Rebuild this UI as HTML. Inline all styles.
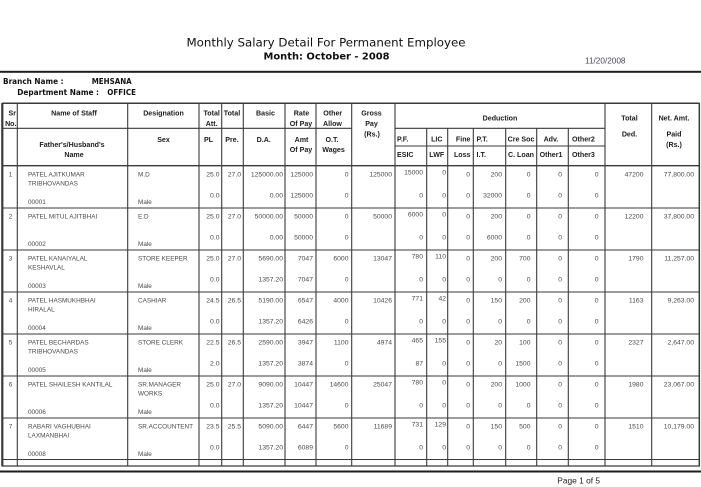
<!DOCTYPE html>
<html>
<head>
<meta charset="utf-8">
<style>
html,body{margin:0;padding:0;background:#fff;}
svg{display:block;}
text{dominant-baseline:central;}
.h{font-family:"Liberation Sans",Arial,sans-serif;font-weight:bold;font-size:7.1px;fill:#1c1c1c;}
.d{font-family:"Liberation Sans",Arial,sans-serif;font-size:6.4px;fill:#4a4a4a;}
.n{font-family:"Liberation Sans",Arial,sans-serif;font-size:6.8px;fill:#4a4a4a;text-anchor:end;}
.m{text-anchor:middle;}
.e{text-anchor:end;}
.ln line{stroke:#3a3a3a;stroke-width:1.1;}
</style>
</head>
<body>
<svg width="701" height="487" viewBox="0 0 701 487" xmlns="http://www.w3.org/2000/svg">
<rect width="701" height="487" fill="#fff"/>

<!-- Title -->
<text x="186.5" y="42.5" textLength="279" lengthAdjust="spacingAndGlyphs" style="font-family:'DejaVu Sans',sans-serif;font-size:11.5px;fill:#111;">Monthly Salary Detail For Permanent Employee</text>
<text x="263.5" y="57" textLength="126" lengthAdjust="spacingAndGlyphs" style="font-family:'DejaVu Sans',sans-serif;font-weight:bold;font-size:9.8px;fill:#111;">Month: October - 2008</text>
<text x="585" y="61" textLength="40.5" lengthAdjust="spacingAndGlyphs" style="font-family:'Liberation Sans',sans-serif;font-size:8px;fill:#4b4660;">11/20/2008</text>
<rect x="0" y="70.8" width="701" height="2" fill="#1e1e1e"/>

<!-- Branch -->
<text x="3" y="81.5" textLength="60.5" lengthAdjust="spacingAndGlyphs" style="font-family:'DejaVu Sans',sans-serif;font-weight:bold;font-size:7.5px;fill:#111;">Branch Name :</text>
<text x="91.7" y="81.5" textLength="40" lengthAdjust="spacingAndGlyphs" style="font-family:'DejaVu Sans',sans-serif;font-weight:bold;font-size:7.5px;fill:#111;">MEHSANA</text>
<text x="17.3" y="92.3" textLength="81.7" lengthAdjust="spacingAndGlyphs" style="font-family:'DejaVu Sans',sans-serif;font-weight:bold;font-size:7.5px;fill:#111;">Department Name :</text>
<text x="107.3" y="92.3" textLength="28.7" lengthAdjust="spacingAndGlyphs" style="font-family:'DejaVu Sans',sans-serif;font-weight:bold;font-size:7.5px;fill:#111;">OFFICE</text>

<!-- Table lines -->
<g class="ln">
<line x1="2" y1="103.3" x2="699.8" y2="103.3" style="stroke-width:1.5"/>
<line x1="2.3" y1="103" x2="2.3" y2="466.5" style="stroke-width:2.2"/>
<line x1="699.3" y1="103" x2="699.3" y2="466.5" style="stroke-width:1.5"/>
<line x1="2" y1="128.3" x2="351.7" y2="128.3"/>
<line x1="395" y1="128.3" x2="605" y2="128.3"/>
<line x1="395" y1="146" x2="605" y2="146"/>
<line x1="2" y1="165.7" x2="699.5" y2="165.7" style="stroke-width:1.4"/>
<line x1="2" y1="208" x2="699.5" y2="208"/>
<line x1="2" y1="250" x2="699.5" y2="250"/>
<line x1="2" y1="292" x2="699.5" y2="292"/>
<line x1="2" y1="334" x2="699.5" y2="334"/>
<line x1="2" y1="376" x2="699.5" y2="376"/>
<line x1="2" y1="418" x2="699.5" y2="418"/>
<line x1="2" y1="459.5" x2="699.5" y2="459.5"/>
<line x1="2" y1="466" x2="699.5" y2="466" style="stroke-width:1.3"/>

<line x1="17.3" y1="103" x2="17.3" y2="466"/>
<line x1="127.7" y1="103" x2="127.7" y2="466"/>
<line x1="199" y1="103" x2="199" y2="466"/>
<line x1="221.7" y1="103" x2="221.7" y2="466"/>
<line x1="243.3" y1="103" x2="243.3" y2="466"/>
<line x1="285" y1="103" x2="285" y2="466"/>
<line x1="316" y1="103" x2="316" y2="466"/>
<line x1="351.7" y1="103" x2="351.7" y2="466"/>
<line x1="395" y1="103" x2="395" y2="466"/>
<line x1="605" y1="103" x2="605" y2="466"/>
<line x1="651.7" y1="103" x2="651.7" y2="466"/>
<line x1="426.7" y1="128.3" x2="426.7" y2="466"/>
<line x1="447.7" y1="128.3" x2="447.7" y2="466"/>
<line x1="473.3" y1="128.3" x2="473.3" y2="466"/>
<line x1="505.7" y1="128.3" x2="505.7" y2="466"/>
<line x1="536.7" y1="128.3" x2="536.7" y2="466"/>
<line x1="568.3" y1="128.3" x2="568.3" y2="466"/>
</g>
<rect x="0" y="470.5" width="701" height="2" fill="#1e1e1e"/>

<!-- Header labels -->
<text class="h e" x="16" y="113.3">Sr</text>
<text class="h e" x="16.5" y="124">No.</text>
<text class="h m" x="74" y="113.3">Name of Staff</text>
<text class="h m" x="72" y="145">Father's/Husband's</text>
<text class="h m" x="74" y="155">Name</text>
<text class="h m" x="163.5" y="113.3">Designation</text>
<text class="h m" x="163.5" y="140">Sex</text>
<text class="h m" x="211.7" y="113.3">Total</text>
<text class="h m" x="211.7" y="124">Att.</text>
<text class="h m" x="232" y="113.3">Total</text>
<text class="h m" x="208.5" y="140">PL</text>
<text class="h m" x="232" y="140">Pre.</text>
<text class="h m" x="265.5" y="113.3">Basic</text>
<text class="h m" x="263.7" y="140">D.A.</text>
<text class="h m" x="301.5" y="113.3">Rate</text>
<text class="h m" x="301" y="124">Of Pay</text>
<text class="h m" x="301.5" y="140">Amt</text>
<text class="h m" x="301" y="150">Of Pay</text>
<text class="h m" x="332.7" y="113.3">Other</text>
<text class="h m" x="332.5" y="124">Allow</text>
<text class="h m" x="332" y="140">O.T.</text>
<text class="h m" x="333.5" y="150">Wages</text>
<text class="h m" x="371.5" y="113.3">Gross</text>
<text class="h m" x="371.5" y="124">Pay</text>
<text class="h m" x="372" y="134.5">(Rs.)</text>
<text class="h m" x="500" y="118.3">Deduction</text>
<text class="h" x="397" y="139.3">P.F.</text>
<text class="h" x="397" y="155">ESIC</text>
<text class="h m" x="436.8" y="139.3">LIC</text>
<text class="h m" x="436.8" y="155">LWF</text>
<text class="h e" x="470.5" y="139.3">Fine</text>
<text class="h e" x="470.5" y="155">Loss</text>
<text class="h" x="476.5" y="139.3">P.T.</text>
<text class="h" x="476.5" y="155">I.T.</text>
<text class="h m" x="521" y="139.3">Cre Soc</text>
<text class="h m" x="521" y="155">C. Loan</text>
<text class="h m" x="551" y="139.3">Adv.</text>
<text class="h m" x="551" y="155">Other1</text>
<text class="h" x="572" y="139.3">Other2</text>
<text class="h" x="572" y="155">Other3</text>
<text class="h m" x="629.5" y="118.3">Total</text>
<text class="h m" x="629.5" y="134.3">Ded.</text>
<text class="h m" x="674" y="118.3">Net. Amt.</text>
<text class="h m" x="674" y="134.3">Paid</text>
<text class="h m" x="674" y="145">(Rs.)</text>

<!-- Row 1 -->
<g transform="translate(0,166)">
<text class="d m" x="10.5" y="9">1</text>
<text class="d" x="28" y="9">PATEL AJITKUMAR</text>
<text class="d" x="28" y="18">TRIBHOVANDAS</text>
<text class="d" x="28" y="36.5">00001</text>
<text class="d" x="138" y="9">M.D</text>
<text class="d" x="138" y="36.5">Male</text>
<text class="n" x="219.5" y="9">25.0</text><text class="n" x="219.5" y="30">0.0</text>
<text class="n" x="241" y="9">27.0</text>
<text class="n" x="283" y="9">125000.00</text><text class="n" x="283" y="30">0.00</text>
<text class="n" x="313" y="9">125000</text><text class="n" x="313" y="30">125000</text>
<text class="n" x="348.5" y="9">0</text><text class="n" x="348.5" y="30">0</text>
<text class="n" x="392" y="9">125000</text>
<text class="n" x="423" y="7">15000</text><text class="n" x="423" y="30">0</text>
<text class="n" x="446" y="7">0</text><text class="n" x="446" y="30">0</text>
<text class="n" x="470" y="9">0</text><text class="n" x="470" y="30">0</text>
<text class="n" x="502" y="9">200</text><text class="n" x="502" y="30">32000</text>
<text class="n" x="530.5" y="9">0</text><text class="n" x="530.5" y="30">0</text>
<text class="n" x="562" y="9">0</text><text class="n" x="562" y="30">0</text>
<text class="n" x="598.5" y="9">0</text><text class="n" x="598.5" y="30">0</text>
<text class="n" x="643.5" y="9">47200</text>
<text class="n" x="694" y="9">77,800.00</text>
</g>

<!-- Row 2 -->
<g transform="translate(0,208)">
<text class="d m" x="10.5" y="9">2</text>
<text class="d" x="28" y="9">PATEL MITUL AJITBHAI</text>
<text class="d" x="28" y="36.5">00002</text>
<text class="d" x="138" y="9">E.D</text>
<text class="d" x="138" y="36.5">Male</text>
<text class="n" x="219.5" y="9">25.0</text><text class="n" x="219.5" y="30">0.0</text>
<text class="n" x="241" y="9">27.0</text>
<text class="n" x="283" y="9">50000.00</text><text class="n" x="283" y="30">0.00</text>
<text class="n" x="313" y="9">50000</text><text class="n" x="313" y="30">50000</text>
<text class="n" x="348.5" y="9">0</text><text class="n" x="348.5" y="30">0</text>
<text class="n" x="392" y="9">50000</text>
<text class="n" x="423" y="7">6000</text><text class="n" x="423" y="30">0</text>
<text class="n" x="446" y="7">0</text><text class="n" x="446" y="30">0</text>
<text class="n" x="470" y="9">0</text><text class="n" x="470" y="30">0</text>
<text class="n" x="502" y="9">200</text><text class="n" x="502" y="30">6000</text>
<text class="n" x="530.5" y="9">0</text><text class="n" x="530.5" y="30">0</text>
<text class="n" x="562" y="9">0</text><text class="n" x="562" y="30">0</text>
<text class="n" x="598.5" y="9">0</text><text class="n" x="598.5" y="30">0</text>
<text class="n" x="643.5" y="9">12200</text>
<text class="n" x="694" y="9">37,800.00</text>
</g>

<!-- Row 3 -->
<g transform="translate(0,250)">
<text class="d m" x="10.5" y="9">3</text>
<text class="d" x="28" y="9">PATEL KANAIYALAL</text>
<text class="d" x="28" y="18">KESHAVLAL</text>
<text class="d" x="28" y="36.5">00003</text>
<text class="d" x="138" y="9">STORE KEEPER</text>
<text class="d" x="138" y="36.5">Male</text>
<text class="n" x="219.5" y="9">25.0</text><text class="n" x="219.5" y="30">0.0</text>
<text class="n" x="241" y="9">27.0</text>
<text class="n" x="283" y="9">5690.00</text><text class="n" x="283" y="30">1357.20</text>
<text class="n" x="313" y="9">7047</text><text class="n" x="313" y="30">7047</text>
<text class="n" x="348.5" y="9">6000</text><text class="n" x="348.5" y="30">0</text>
<text class="n" x="392" y="9">13047</text>
<text class="n" x="423" y="7">780</text><text class="n" x="423" y="30">0</text>
<text class="n" x="446" y="7">110</text><text class="n" x="446" y="30">0</text>
<text class="n" x="470" y="9">0</text><text class="n" x="470" y="30">0</text>
<text class="n" x="502" y="9">200</text><text class="n" x="502" y="30">0</text>
<text class="n" x="530.5" y="9">700</text><text class="n" x="530.5" y="30">0</text>
<text class="n" x="562" y="9">0</text><text class="n" x="562" y="30">0</text>
<text class="n" x="598.5" y="9">0</text><text class="n" x="598.5" y="30">0</text>
<text class="n" x="643.5" y="9">1790</text>
<text class="n" x="694" y="9">11,257.00</text>
</g>

<!-- Row 4 -->
<g transform="translate(0,292)">
<text class="d m" x="10.5" y="9">4</text>
<text class="d" x="28" y="9">PATEL HASMUKHBHAI</text>
<text class="d" x="28" y="18">HIRALAL</text>
<text class="d" x="28" y="36.5">00004</text>
<text class="d" x="138" y="9">CASHIAR</text>
<text class="d" x="138" y="36.5">Male</text>
<text class="n" x="219.5" y="9">24.5</text><text class="n" x="219.5" y="30">0.0</text>
<text class="n" x="241" y="9">26.5</text>
<text class="n" x="283" y="9">5190.00</text><text class="n" x="283" y="30">1357.20</text>
<text class="n" x="313" y="9">6547</text><text class="n" x="313" y="30">6426</text>
<text class="n" x="348.5" y="9">4000</text><text class="n" x="348.5" y="30">0</text>
<text class="n" x="392" y="9">10426</text>
<text class="n" x="423" y="7">771</text><text class="n" x="423" y="30">0</text>
<text class="n" x="446" y="7">42</text><text class="n" x="446" y="30">0</text>
<text class="n" x="470" y="9">0</text><text class="n" x="470" y="30">0</text>
<text class="n" x="502" y="9">150</text><text class="n" x="502" y="30">0</text>
<text class="n" x="530.5" y="9">200</text><text class="n" x="530.5" y="30">0</text>
<text class="n" x="562" y="9">0</text><text class="n" x="562" y="30">0</text>
<text class="n" x="598.5" y="9">0</text><text class="n" x="598.5" y="30">0</text>
<text class="n" x="643.5" y="9">1163</text>
<text class="n" x="694" y="9">9,263.00</text>
</g>

<!-- Row 5 -->
<g transform="translate(0,334)">
<text class="d m" x="10.5" y="9">5</text>
<text class="d" x="28" y="9">PATEL BECHARDAS</text>
<text class="d" x="28" y="18">TRIBHOVANDAS</text>
<text class="d" x="28" y="36.5">00005</text>
<text class="d" x="138" y="9">STORE CLERK</text>
<text class="d" x="138" y="36.5">Male</text>
<text class="n" x="219.5" y="9">22.5</text><text class="n" x="219.5" y="30">2.0</text>
<text class="n" x="241" y="9">26.5</text>
<text class="n" x="283" y="9">2590.00</text><text class="n" x="283" y="30">1357.20</text>
<text class="n" x="313" y="9">3947</text><text class="n" x="313" y="30">3874</text>
<text class="n" x="348.5" y="9">1100</text><text class="n" x="348.5" y="30">0</text>
<text class="n" x="392" y="9">4974</text>
<text class="n" x="423" y="7">465</text><text class="n" x="423" y="30">87</text>
<text class="n" x="446" y="7">155</text><text class="n" x="446" y="30">0</text>
<text class="n" x="470" y="9">0</text><text class="n" x="470" y="30">0</text>
<text class="n" x="502" y="9">20</text><text class="n" x="502" y="30">0</text>
<text class="n" x="530.5" y="9">100</text><text class="n" x="530.5" y="30">1500</text>
<text class="n" x="562" y="9">0</text><text class="n" x="562" y="30">0</text>
<text class="n" x="598.5" y="9">0</text><text class="n" x="598.5" y="30">0</text>
<text class="n" x="643.5" y="9">2327</text>
<text class="n" x="694" y="9">2,647.00</text>
</g>

<!-- Row 6 -->
<g transform="translate(0,376)">
<text class="d m" x="10.5" y="9">6</text>
<text class="d" x="28" y="9">PATEL SHAILESH KANTILAL</text>
<text class="d" x="28" y="36.5">00006</text>
<text class="d" x="138" y="9">SR.MANAGER</text>
<text class="d" x="138" y="18">WORKS</text>
<text class="d" x="138" y="36.5">Male</text>
<text class="n" x="219.5" y="9">25.0</text><text class="n" x="219.5" y="30">0.0</text>
<text class="n" x="241" y="9">27.0</text>
<text class="n" x="283" y="9">9090.00</text><text class="n" x="283" y="30">1357.20</text>
<text class="n" x="313" y="9">10447</text><text class="n" x="313" y="30">10447</text>
<text class="n" x="348.5" y="9">14600</text><text class="n" x="348.5" y="30">0</text>
<text class="n" x="392" y="9">25047</text>
<text class="n" x="423" y="7">780</text><text class="n" x="423" y="30">0</text>
<text class="n" x="446" y="7">0</text><text class="n" x="446" y="30">0</text>
<text class="n" x="470" y="9">0</text><text class="n" x="470" y="30">0</text>
<text class="n" x="502" y="9">200</text><text class="n" x="502" y="30">0</text>
<text class="n" x="530.5" y="9">1000</text><text class="n" x="530.5" y="30">0</text>
<text class="n" x="562" y="9">0</text><text class="n" x="562" y="30">0</text>
<text class="n" x="598.5" y="9">0</text><text class="n" x="598.5" y="30">0</text>
<text class="n" x="643.5" y="9">1980</text>
<text class="n" x="694" y="9">23,067.00</text>
</g>

<!-- Row 7 -->
<g transform="translate(0,418)">
<text class="d m" x="10.5" y="9">7</text>
<text class="d" x="28" y="9">RABARI VAGHUBHAI</text>
<text class="d" x="28" y="18">LAXMANBHAI</text>
<text class="d" x="28" y="36.5">00008</text>
<text class="d" x="138" y="9">SR.ACCOUNTENT</text>
<text class="d" x="138" y="36.5">Male</text>
<text class="n" x="219.5" y="9">23.5</text><text class="n" x="219.5" y="30">0.0</text>
<text class="n" x="241" y="9">25.5</text>
<text class="n" x="283" y="9">5090.00</text><text class="n" x="283" y="30">1357.20</text>
<text class="n" x="313" y="9">6447</text><text class="n" x="313" y="30">6089</text>
<text class="n" x="348.5" y="9">5600</text><text class="n" x="348.5" y="30">0</text>
<text class="n" x="392" y="9">11689</text>
<text class="n" x="423" y="7">731</text><text class="n" x="423" y="30">0</text>
<text class="n" x="446" y="7">129</text><text class="n" x="446" y="30">0</text>
<text class="n" x="470" y="9">0</text><text class="n" x="470" y="30">0</text>
<text class="n" x="502" y="9">150</text><text class="n" x="502" y="30">0</text>
<text class="n" x="530.5" y="9">500</text><text class="n" x="530.5" y="30">0</text>
<text class="n" x="562" y="9">0</text><text class="n" x="562" y="30">0</text>
<text class="n" x="598.5" y="9">0</text><text class="n" x="598.5" y="30">0</text>
<text class="n" x="643.5" y="9">1510</text>
<text class="n" x="694" y="9">10,179.00</text>
</g>

<!-- Footer -->
<text x="557.3" y="480.5" textLength="42.7" lengthAdjust="spacingAndGlyphs" style="font-family:'Liberation Sans',sans-serif;font-size:8.4px;fill:#222;">Page 1 of 5</text>
</svg>
</body>
</html>
